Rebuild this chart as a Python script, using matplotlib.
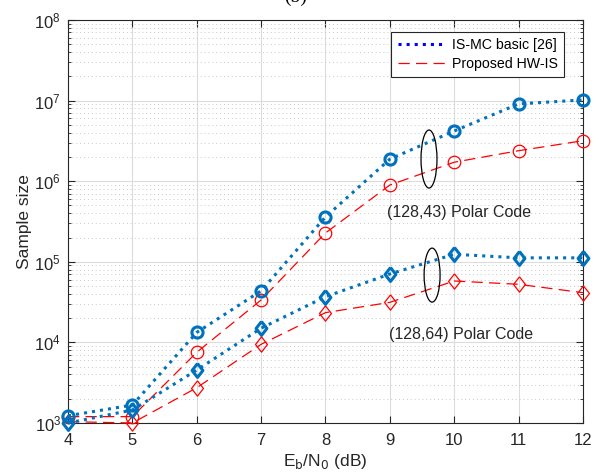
import numpy as np
import matplotlib
matplotlib.use('Agg')
import matplotlib.pyplot as plt
from matplotlib.patches import Ellipse
from matplotlib.ticker import LogLocator, NullFormatter

plt.rcParams['font.family'] = ['Liberation Sans', 'DejaVu Sans']

# Eb/N0 in dB
ebn0 = [4, 5, 6, 7, 8, 9, 10, 11, 12]

# (128,43) polar code
ismc_43 = [1230, 1670, 13300, 43600, 3.6e5, 1.88e6, 4.2e6, 9.1e6, 1.02e7]
hwis_43 = [1200, 1200, 7540, 33600, 2.28e5, 8.97e5, 1.72e6, 2.39e6, 3.18e6]

# (128,64) polar code
ismc_64 = [1000, 1450, 4540, 15000, 36900, 70600, 1.24e5, 1.12e5, 1.12e5]
hwis_64 = [1040, 1000, 2740, 9470, 23400, 31400, 57800, 52600, 41400]

matlab_blue = (0, 0.447, 0.741)
# MATLAB-style diamond (a bit wider than matplotlib's thin 'd')
diamond = [(0, 1), (0.78, 0), (0, -1), (-0.78, 0), (0, 1)]

fig = plt.figure(figsize=(6.03, 4.73), dpi=100)
ax = fig.add_axes([0.1128, 0.1057, 0.854, 0.852])

# series
ax.plot(ebn0, ismc_43, ':', color=matlab_blue, lw=2.2, marker='o', ms=8,
        mfc='none', mew=2.2, clip_on=False, zorder=4)
ax.plot(ebn0, hwis_43, '--', color='red', lw=0.9, dashes=(9, 5), marker='o', ms=9,
        mfc='none', mew=0.9, clip_on=False, zorder=3)
ax.plot(ebn0, ismc_64, ':', color=matlab_blue, lw=2.2, marker=diamond, ms=10,
        mfc='none', mew=2.2, clip_on=False, zorder=4)
ax.plot(ebn0, hwis_64, '--', color='red', lw=0.9, dashes=(9, 5), marker=diamond, ms=11,
        mfc='none', mew=0.9, clip_on=False, zorder=3)

# legend proxies
l1, = ax.plot([], [], ':', color='blue', lw=2.2)
l2, = ax.plot([], [], '--', color='red', lw=0.9, dashes=(9, 5))
leg = ax.legend([l1, l2], ['IS-MC basic [26]', 'Proposed HW-IS'],
                loc='upper right', bbox_to_anchor=(0.977, 0.988), fontsize=10.2,
                fancybox=False, framealpha=1, edgecolor='#262626',
                handlelength=3.3, borderpad=0.45, labelspacing=0.3,
                handletextpad=0.5)
leg.get_frame().set_linewidth(0.8)

ax.set_yscale('log')
ax.set_xlim(4, 12)
ax.set_ylim(1e3, 1e8)
ax.set_xticks(ebn0)
ax.yaxis.set_major_locator(LogLocator(base=10, numticks=10))
ax.yaxis.set_minor_locator(LogLocator(base=10, subs=np.arange(2, 10), numticks=20))
ax.yaxis.set_minor_formatter(NullFormatter())

ax.grid(True, which='major', color='#dcdcdc', lw=0.8, ls='-')
ax.grid(True, which='minor', axis='y', color='#c8c8c8', lw=0.7, ls=(0, (1, 3)))
ax.set_axisbelow(True)

ax.tick_params(which='both', direction='in', top=True, right=True,
               labelsize=12, colors='#262626')
ax.tick_params(which='major', length=5, pad=5)
ax.tick_params(axis='x', which='major', pad=7)
ax.tick_params(which='minor', length=2.5)
for s in ax.spines.values():
    s.set_color('#262626')
    s.set_linewidth(0.8)

ax.set_xlabel('E$_\\mathrm{b}$/N$_\\mathrm{0}$ (dB)', fontsize=12.5, color='#262626', labelpad=3)
ax.set_ylabel('Sample size', fontsize=12.5, color='#262626', labelpad=2)

# annotation ellipses and labels
ax.add_patch(Ellipse((0.701, 0.655), 0.031, 0.144, transform=ax.transAxes,
                     fill=False, ec='black', lw=0.9, zorder=5))
ax.add_patch(Ellipse((0.707, 0.367), 0.031, 0.134, transform=ax.transAxes,
                     fill=False, ec='black', lw=0.9, zorder=5))
ax.text(0.620, 0.523, '(128,43) Polar Code', transform=ax.transAxes,
        fontsize=11.5, va='center', ha='left', color='#262626')
ax.text(0.623, 0.22, '(128,64) Polar Code', transform=ax.transAxes,
        fontsize=11.5, va='center', ha='left', color='#262626')

fig.text(0.49, 1.005, '(b)', fontsize=14, family='Liberation Serif', ha='center', va='center')

fig.savefig('out.png', dpi=100)
